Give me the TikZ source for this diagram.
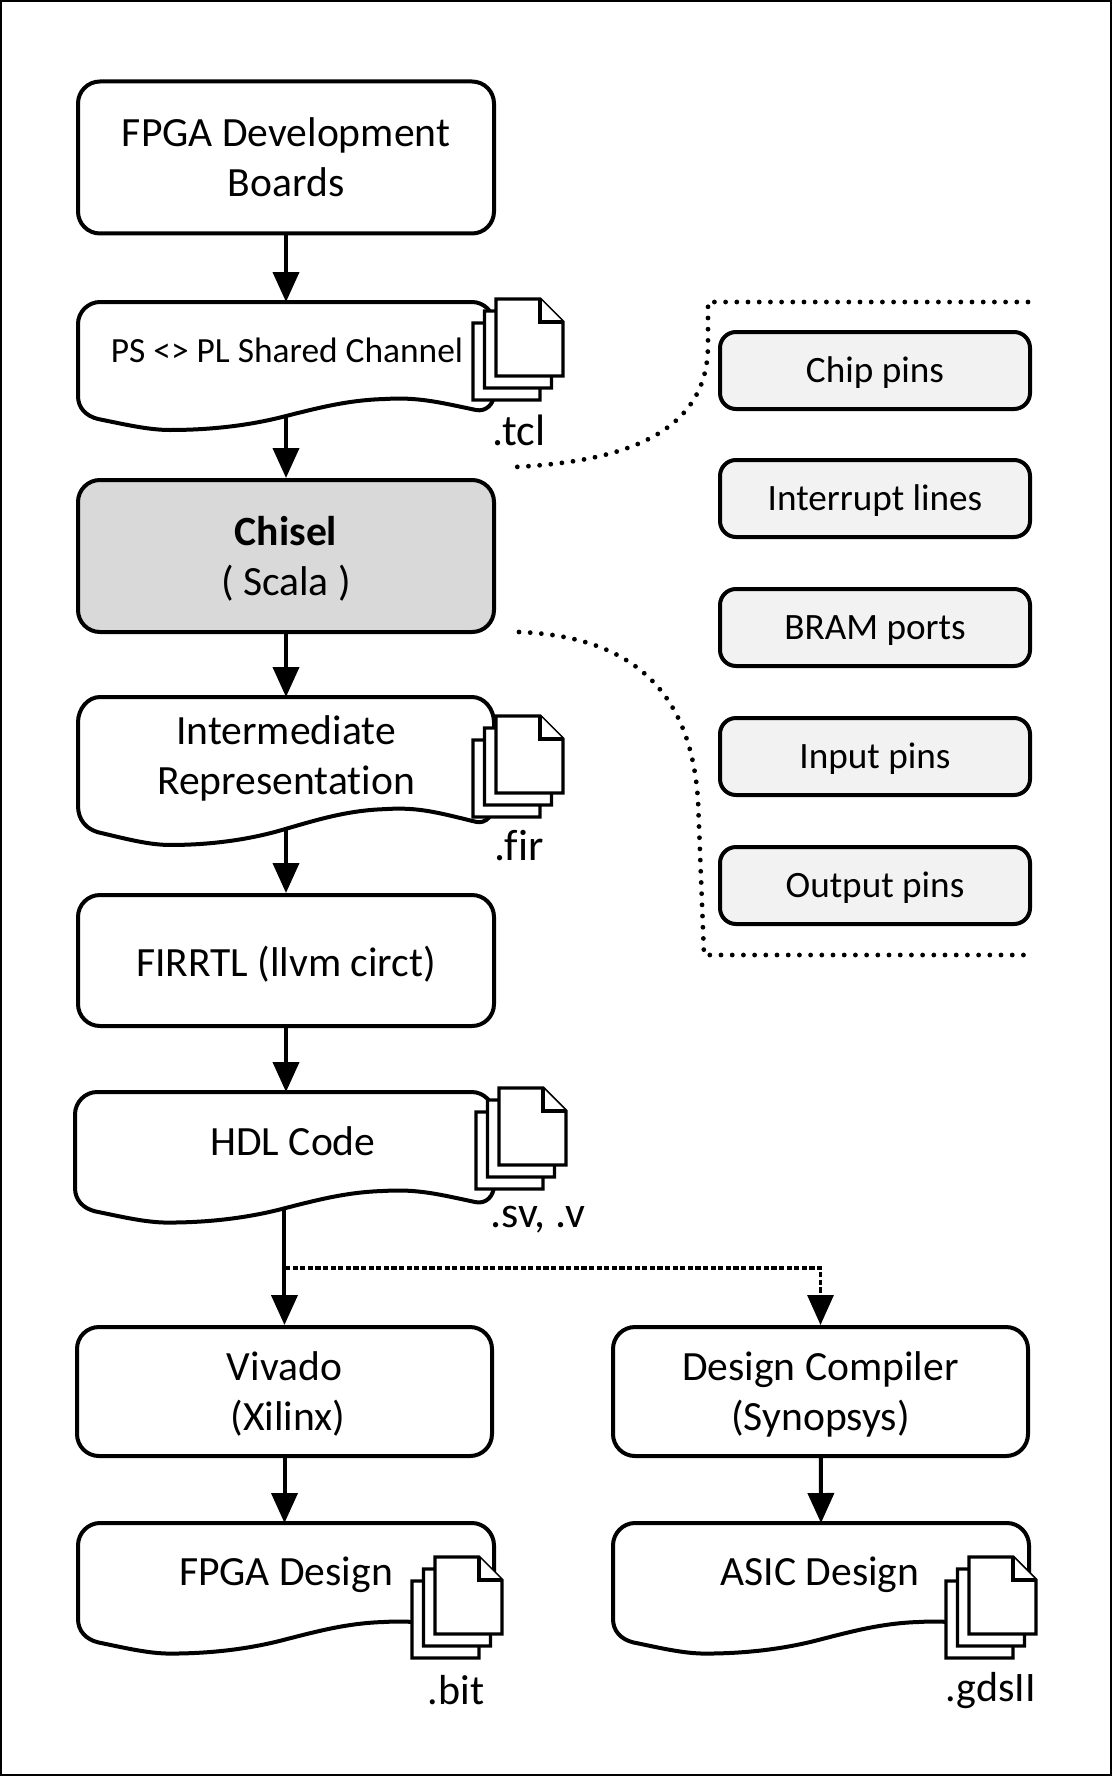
\documentclass[tikz,border=0pt]{standalone}
\usepackage{fontspec}
\setmainfont{Carlito}[RawFeature={-liga}]
\usetikzlibrary{positioning,arrows.meta}
\tikzset{every picture/.style={line width=0.75pt}}
\definecolor{chiselgray}{HTML}{D9D9D9}
\definecolor{pingray}{HTML}{F2F2F2}
\tikzset{
  flowbox/.style={draw,line width=2pt,rounded corners=11pt,fill=white,align=center,font=\fontsize{20.8}{25}\selectfont},
  pinbox/.style={draw,line width=2pt,rounded corners=8pt,fill=pingray,minimum width=155pt,minimum height=38.5pt,text height=15pt,text depth=3pt,font=\fontsize{18.6}{22}\selectfont},
  doctext/.style={align=center,inner sep=0pt,font=\fontsize{20.8}{25}\selectfont},
  filetext/.style={inner sep=0pt,font=\fontsize{22}{25}\selectfont},
  flowarrow/.style={line width=2pt,-{Triangle[length=15pt,width=13pt]}},
  optarrow/.style={line width=1.6pt,dash pattern=on 2.6pt off 1.2pt,-{Triangle[length=15pt,width=13pt]}},
  dotline/.style={line width=2.4pt,line cap=round,dash pattern=on 0pt off 5.6pt},
  pagesheet/.style={draw,line width=1.6pt,fill=white,line join=miter},
}
% pushes a box text a little down
\newcommand{\toppad}{\rule{0pt}{17pt}}
% wavy document shape: name, x, y, xscale, yscale
\newcommand{\docshape}[5]{
  \begin{scope}[shift={(#2,#3)},xscale=#4,yscale=#5]
    \draw[line width=2pt,fill=white] (22,0) -- (394,0) .. controls (406,0) and (416,10) .. (416,22) -- (416,92)
      .. controls (416,102) and (408,110) .. (398,108) .. controls (360,100) and (340,95) .. (307,97)
      .. controls (270,98) and (240,106) .. (208,114) .. controls (170,124) and (130,128) .. (92,128)
      .. controls (70,128) and (45,122) .. (20,117) .. controls (8,114) and (0,106) .. (0,94) -- (0,22)
      .. controls (0,10) and (10,0) .. (22,0) -- cycle;
    \node[minimum width=208pt*#4,minimum height=57pt*#5,inner sep=0pt,outer sep=0pt] (#1) at (208,57) {};
  \end{scope}
}
% stack of three file pages: x, y of the front page
\newcommand{\filestack}[2]{
  \foreach \off in {2,1,0} {
    \begin{scope}[shift={(#1-11.5*\off,#2+12*\off)}]
      \draw[pagesheet] (0,0) -- (44,0) -- (67,23) -- (67,77) -- (0,77) -- cycle;
      \draw[pagesheet] (44,0) -- (44,23) -- (67,23);
    \end{scope}
  }
}
\begin{document}
\begin{tikzpicture}[x=0.5pt,y=-0.5pt]
\useasboundingbox (0,0) rectangle (1112,1776);
\draw[line width=1pt] (1,1) rectangle (1111,1775);
% left column
\node[flowbox,minimum width=208pt,minimum height=76pt] (boards) at (286,157.5) {FPGA Development\\Boards};
\docshape{shared}{78}{302}{1}{1}
\node[doctext,font=\fontsize{17.7}{22}\selectfont] (sharedtext) at (287,350) {PS <> PL Shared Channel};
\filestack{496}{299}
\node[filetext] (tcl) at (519,430) {.tcl};
\node[flowbox,fill=chiselgray,minimum width=208pt,minimum height=76pt] (chisel) at (286,556) {\toppad\textbf{Chisel}\\( Scala )};
\docshape{ir}{78}{697}{1}{1.156}
\node[doctext] (irtext) at (286,758) {Intermediate\\Representation};
\filestack{496}{716}
\node[filetext] (fir) at (519,846) {.fir};
\node[flowbox,minimum width=208pt,minimum height=65.5pt] (firrtl) at (286,960.5) {\rule{0pt}{19pt}FIRRTL (llvm circt)};
\docshape{hdl}{75}{1092}{1.007}{1.02}
\node[doctext] (hdltext) at (293,1141) {HDL Code};
\filestack{499}{1088}
\node[filetext] (sv) at (538,1220) {.sv, .v};
%
\node[flowbox,minimum width=207.5pt,minimum height=64.5pt] (vivado) at (284.5,1391.5) {\toppad Vivado\\\,(Xilinx)};
\node[flowbox,minimum width=207.5pt,minimum height=64.5pt] (dc) at (820.5,1391.5) {\toppad Design Compiler\\(Synopsys)};
\docshape{fpga}{78}{1523}{1}{1.02}
\node[doctext] (fpgatext) at (286,1575) {FPGA Design};
\filestack{435}{1557}
\node[filetext,font=\fontsize{21}{25}\selectfont] (bit) at (456,1690) {.bit};
\docshape{asic}{613}{1523}{1}{1.02}
\node[doctext] (asictext) at (820,1575) {ASIC Design};
\filestack{969}{1557}
\node[filetext,font=\fontsize{21}{25}\selectfont] (gds) at (991,1691) {.gdsII};
% pins
\node[pinbox] (chip) at (875,370.5) {Chip pins};
\node[pinbox] (irq) at (875,498.5) {Interrupt lines};
\node[pinbox] (bram) at (875,627.5) {BRAM ports};
\node[pinbox] (inpins) at (875,756.5) {Input pins};
\node[pinbox] (outpins) at (875,885.5) {Output pins};
% arrows
\draw[flowarrow] (boards) -- (shared.north);
\draw[flowarrow] (shared.south) -- (chisel);
\draw[flowarrow] (chisel) -- (ir.north);
\draw[flowarrow] (ir.south) -- (firrtl);
\draw[flowarrow] (firrtl) -- (hdl.north -| firrtl);
\draw[flowarrow] (hdl.south) -- (hdl.south |- vivado.north);
\coordinate (fork) at (285,1268);
\draw[optarrow] (fork) -| (dc.north);
\draw[flowarrow] (vivado) -- (vivado |- fpga.north);
\draw[flowarrow] (dc) -- (asic.north);
% brackets
\draw[dotline] (1028,302) -- (708,302) -- (708,345) .. controls (708,440) and (610,462) .. (515,467);
\draw[dotline] (519,632) .. controls (620,636) and (690,680) .. (698,800) -- (704,955) -- (1024,955);
\end{tikzpicture}
\end{document}
